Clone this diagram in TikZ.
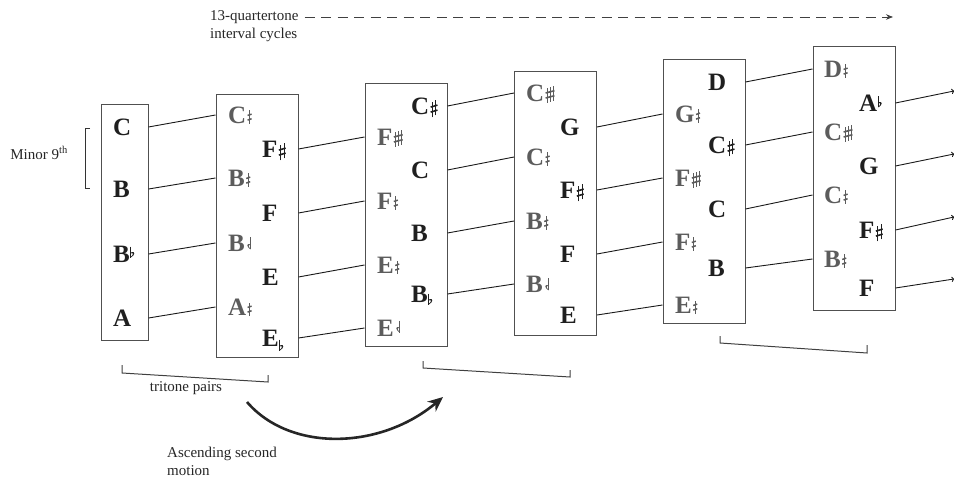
\documentclass[tikz,border=0pt]{standalone}
\usepackage{fontspec}
\setmainfont{Liberation Serif}
\usetikzlibrary{arrows.meta}

\definecolor{notegray}{HTML}{5C5C5C}
\definecolor{noteblack}{HTML}{1F1F1F}
\definecolor{boxgray}{HTML}{505050}

% accidentals, drawn in the current colour
\newcommand{\sharpsign}{\kern0.6pt\tikz[baseline=0pt]{%
  \draw[line width=0.9pt] (0pt,-3pt)--(0pt,12pt) (3.6pt,-1pt)--(3.6pt,14pt);
  \draw[line width=1.6pt] (-1.6pt,2.4pt)--(5.2pt,4.4pt) (-1.6pt,7.4pt)--(5.2pt,9.4pt);}}
\newcommand{\qsharpsign}{\kern0.6pt\tikz[baseline=0pt]{%
  \draw[line width=0.9pt] (0pt,-0.5pt)--(0pt,13pt);
  \draw[line width=1.5pt] (-2pt,3.4pt)--(2pt,4.8pt) (-2pt,8pt)--(2pt,9.4pt);}}
\newcommand{\tqsharpsign}{\kern0.6pt\tikz[baseline=0pt]{%
  \draw[line width=0.9pt] (0pt,-1.5pt)--(0pt,13pt) (3pt,-0.5pt)--(3pt,14pt) (6pt,0.5pt)--(6pt,15pt);
  \draw[line width=1.6pt] (-1.4pt,3.5pt)--(7.4pt,5.8pt) (-1.4pt,8.5pt)--(7.4pt,10.8pt);}}
\newcommand{\flatsign}[1][0pt]{\kern0.6pt\raisebox{#1}{\tikz[baseline=0pt]{%
  \draw[line width=0.8pt] (0pt,11pt)--(0pt,0pt);
  \fill (0pt,0pt) .. controls (3.8pt,2pt) and (5.2pt,6.8pt) .. (0pt,5.2pt) -- (0pt,4.2pt)
    .. controls (2.8pt,5.2pt) and (2.6pt,2.4pt) .. (0pt,0.9pt) -- cycle;}}}
\newcommand{\hflatsign}[1][0pt]{\kern0.6pt\raisebox{#1}{\tikz[baseline=0pt,xscale=-1]{%
  \draw[line width=0.8pt] (0pt,12pt)--(0pt,0pt);
  \fill (0pt,0pt) .. controls (3.8pt,2pt) and (5.2pt,6.8pt) .. (0pt,5.2pt) -- (0pt,4.2pt)
    .. controls (2.8pt,5.2pt) and (2.6pt,2.4pt) .. (0pt,0.9pt) -- cycle;}}\kern4pt}

\begin{document}
\begin{tikzpicture}[x=1pt,y=-1pt,
    notebox/.style={draw=boxgray, line width=1pt, minimum width=82pt, minimum height=263pt, inner sep=0pt},
    note/.style={anchor=west, inner sep=0pt, text height=17pt, text depth=0pt,
      font=\fontsize{25}{25}\selectfont\bfseries},
    qnote/.style={note, text=notegray},
    snote/.style={note, text=noteblack},
    smalltext/.style={font=\fontsize{15}{18}\selectfont, inner sep=0pt, text=black!85},
    link/.style={draw=black!90, line width=0.9pt}]

  \useasboundingbox (0,0) rectangle (955,478);

  % boxes
  \node[notebox, minimum width=47pt, minimum height=235pt] (box1) at (124.5,222.5) {};
  \node[notebox] (box2) at (257,226)   {};
  \node[notebox] (box3) at (406,215)   {};
  \node[notebox] (box4) at (555.5,203.5) {};
  \node[notebox] (box5) at (704,191.5) {};
  \node[notebox] (box6) at (854,178.5) {};

  % box 1
  \begin{scope}[every node/.style={snote}]
    \node (n1L1) at (113,127) {C};
    \node (n1L2) at (113,189) {B};
    \node (n1L3) at (113,254) {B\flatsign[5pt]};
    \node (n1L4) at (113,318) {A};
  \end{scope}

  % quartertone columns
  \begin{scope}[every node/.style={qnote}]
    \node (n2L1) at (228,115) {C\qsharpsign};
    \node (n2L2) at (228,178) {B\qsharpsign};
    \node (n2L3) at (228,243) {B\hflatsign[2pt]};
    \node (n2L4) at (228,307) {A\qsharpsign};

    \node (n3L1) at (377,137) {F\tqsharpsign};
    \node (n3L2) at (377,201) {F\qsharpsign};
    \node (n3L3) at (377,265) {E\qsharpsign};
    \node (n3L4) at (377,328) {E\hflatsign[4pt]};

    \node (n4L1) at (526,93)  {C\tqsharpsign};
    \node (n4L2) at (526,157) {C\qsharpsign};
    \node (n4L3) at (526,221) {B\qsharpsign};
    \node (n4L4) at (526,284) {B\hflatsign[2pt]};

    \node (n5L1) at (675,114) {G\qsharpsign};
    \node (n5L2) at (675,178) {F\tqsharpsign};
    \node (n5L3) at (675,242) {F\qsharpsign};
    \node (n5L4) at (675,305) {E\qsharpsign};

    \node (n6L1) at (824,69)  {D\qsharpsign};
    \node (n6L2) at (824,132) {C\tqsharpsign};
    \node (n6L3) at (824,195) {C\qsharpsign};
    \node (n6L4) at (824,259) {B\qsharpsign};
  \end{scope}

  % semitone columns
  \begin{scope}[every node/.style={snote}]
    \node (n2R1) at (262,149) {F\sharpsign};
    \node (n2R2) at (262,213) {F};
    \node (n2R3) at (262,277) {E};
    \node (n2R4) at (262,338) {E\flatsign[-4pt]};

    \node (n3R1) at (411,106) {C\sharpsign};
    \node (n3R2) at (411,170) {C};
    \node (n3R3) at (411,233) {B};
    \node (n3R4) at (411,294) {B\flatsign[-2pt]};

    \node (n4R1) at (560,127) {G};
    \node (n4R2) at (560,190) {F\sharpsign};
    \node (n4R3) at (560,254) {F};
    \node (n4R4) at (560,315) {E};

    \node (n5R1) at (708,82)  {D};
    \node (n5R2) at (708,145) {C\sharpsign};
    \node (n5R3) at (708,209) {C};
    \node (n5R4) at (708,268) {B};

    \node (n6R1) at (859,103) {A\flatsign[4pt]};
    \node (n6R2) at (859,166) {G};
    \node (n6R3) at (859,230) {F\sharpsign};
    \node (n6R4) at (859,288) {F};
  \end{scope}

  \coordinate (e1) at (954,91);
  \coordinate (e2) at (954,154);
  \coordinate (e3) at (954,217);
  \coordinate (e4) at (954,279);

  % cycle lines
  \begin{scope}[every edge/.style={link}]
    \path (n1L1 -| box1.east) edge (n2L1 -| box2.west);
    \path (n1L2 -| box1.east) edge (n2L2 -| box2.west);
    \path (n1L3 -| box1.east) edge (n2L3 -| box2.west);
    \path (n1L4 -| box1.east) edge (n2L4 -| box2.west);

    \path (n2R1 -| box2.east) edge (n3L1 -| box3.west);
    \path (n2R2 -| box2.east) edge (n3L2 -| box3.west);
    \path (n2R3 -| box2.east) edge (n3L3 -| box3.west);
    \path (n2R4 -| box2.east) edge (n3L4 -| box3.west);

    \path (n3R1 -| box3.east) edge (n4L1 -| box4.west);
    \path (n3R2 -| box3.east) edge (n4L2 -| box4.west);
    \path (n3R3 -| box3.east) edge (n4L3 -| box4.west);
    \path (n3R4 -| box3.east) edge (n4L4 -| box4.west);

    \path (n4R1 -| box4.east) edge (n5L1 -| box5.west);
    \path (n4R2 -| box4.east) edge (n5L2 -| box5.west);
    \path (n4R3 -| box4.east) edge (n5L3 -| box5.west);
    \path (n4R4 -| box4.east) edge (n5L4 -| box5.west);

    \path (n5R1 -| box5.east) edge (n6L1 -| box6.west);
    \path (n5R2 -| box5.east) edge (n6L2 -| box6.west);
    \path (n5R3 -| box5.east) edge (n6L3 -| box6.west);
    \path (n5R4 -| box5.east) edge (n6L4 -| box6.west);

    \path (n6R1 -| box6.east) edge[-{To[length=2.5pt]}] (e1);
    \path (n6R2 -| box6.east) edge[-{To[length=2.5pt]}] (e2);
    \path (n6R3 -| box6.east) edge[-{To[length=2.5pt]}] (e3);
    \path (n6R4 -| box6.east) edge[-{To[length=2.5pt]}] (e4);
  \end{scope}

  % labels
  \node[smalltext, anchor=west] (cyc1) at (210,17) {13-quartertone};
  \node[smalltext, anchor=west] (cyc2) at (210,35) {interval cycles};
  \coordinate (cycend) at (893,17);
  \draw[draw=black!75, line width=0.8pt, dash pattern=on 10pt off 6.5pt,
    -{Stealth[length=7pt,width=5.5pt]}] ([xshift=6pt]cyc1.east) -- (cycend);

  \node[smalltext, anchor=east] (minor) at (68,153) {Minor 9\textsuperscript{th}};
  \draw[line width=0.8pt, draw=black!80] (90,128) -- (85,128) -- (85,188) -- (90,188);

  \node[smalltext] (tritone) at (186,388) {tritone pairs};
  \node[smalltext, anchor=west, align=left] (motion) at (167,461) {Ascending second\\motion};

  % brackets under the tritone pairs
  \begin{scope}[line width=1pt, draw=black!75]
    \draw (122,365) -- (122,373) -- (268,382) -- (268,375);
    \draw (423,361) -- (423,368) -- (570,377) -- (570,370);
    \draw (720,336) -- (720,343) -- (867,353) -- (867,345);
  \end{scope}

  \coordinate (motionstart) at (247,402);
  \coordinate (motionend) at (443,397);
  \draw[line width=2.6pt, draw=black!85, -{Stealth[length=15pt,width=13pt]}]
    (motionstart) .. controls (290,452) and (380,450) .. (motionend);

\end{tikzpicture}
\end{document}
